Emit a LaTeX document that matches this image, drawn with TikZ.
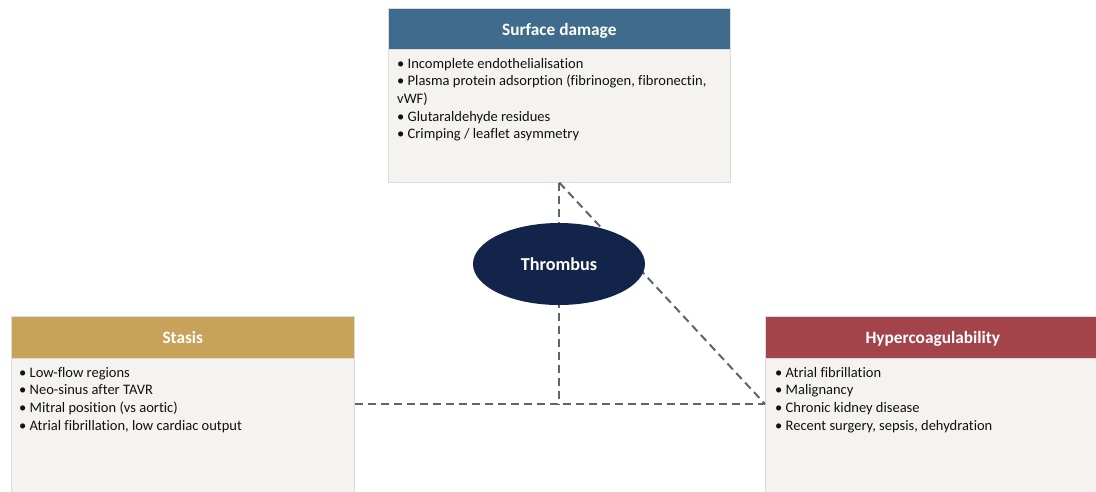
\documentclass[tikz,border=0pt]{standalone}
\usepackage{fontspec}
\setmainfont{Carlito}[Ligatures=NoCommon]
\usetikzlibrary{shapes.geometric}
\definecolor{surfblue}{HTML}{3F6B8C}
\definecolor{stasisgold}{HTML}{C9A25A}
\definecolor{hyperred}{HTML}{A3444B}
\definecolor{thrnavy}{HTML}{13244A}
\definecolor{bodygrey}{HTML}{F4F3F0}
\definecolor{edgegrey}{HTML}{DCDCDC}
\definecolor{linkgrey}{HTML}{5E656D}
\definecolor{listtext}{HTML}{111111}

\begin{document}
\begin{tikzpicture}[x=1pt,y=-1pt,
  header/.style={draw=edgegrey, line width=0.6pt, inner sep=0, anchor=north west,
    text height=13pt, text depth=0pt,
    text=white, font=\fontsize{17.3}{20}\selectfont\bfseries},
  panel/.style={fill=bodygrey, draw=edgegrey, line width=0.6pt, inner sep=0, anchor=north west},
  itemlist/.style={anchor=north west, align=left, inner sep=0, text=listtext,
    font=\fontsize{14.5}{17.6}\selectfont},
  link/.style={draw=linkgrey, line width=2pt, dash pattern=on 8pt off 5pt},
]
\useasboundingbox[fill=white] (0,0) rectangle (1096,491);

% Surface damage panel
\node[panel, minimum width=342, minimum height=133] (surfbody) at (388,49) {};
\node[header, fill=surfblue, minimum width=342, minimum height=41] (surfhead) at (388,8) {Surface damage};
\node[itemlist] (surflist) at (397,58) {• Incomplete endothelialisation\\
• Plasma protein adsorption (fibrinogen, fibronectin,\\
vWF)\\
• Glutaraldehyde residues\\
• Crimping / leaflet asymmetry};

% Stasis panel
\node[panel, minimum width=343, minimum height=134] (stasisbody) at (11,358) {};
\node[header, fill=stasisgold, minimum width=343, minimum height=42] (stasishead) at (11,316) {Stasis};
\node[itemlist] (stasislist) at (19,367) {• Low-flow regions\\
• Neo-sinus after TAVR\\
• Mitral position (vs aortic)\\
• Atrial fibrillation, low cardiac output};

% Hypercoagulability panel
\node[panel, minimum width=335, minimum height=134] (hypbody) at (765,358) {};
\node[header, fill=hyperred, minimum width=335, minimum height=42] (hyphead) at (765,316) {Hypercoagulability};
\node[itemlist] (hyplist) at (775,367) {• Atrial fibrillation\\
• Malignancy\\
• Chronic kidney disease\\
• Recent surgery, sepsis, dehydration};

% Joints of the dashed triangle
\coordinate (apex) at (surfbody.south);
\coordinate (leftjoin) at (stasisbody.east |- 0,404);
\coordinate (rightjoin) at (hypbody.west |- 0,404);
\coordinate (footjoin) at (apex |- 0,404);

\draw[link] (apex) -- (footjoin);
\draw[link] (apex) -- (rightjoin);
\draw[link] (leftjoin) -- (rightjoin);

% Central node
\node[ellipse, fill=thrnavy, minimum width=172, minimum height=82, inner sep=0,
  text height=12pt, text depth=0pt,
  text=white, font=\fontsize{18.2}{21}\selectfont\bfseries] (thrombus) at (559,264) {Thrombus};
\end{tikzpicture}
\end{document}
